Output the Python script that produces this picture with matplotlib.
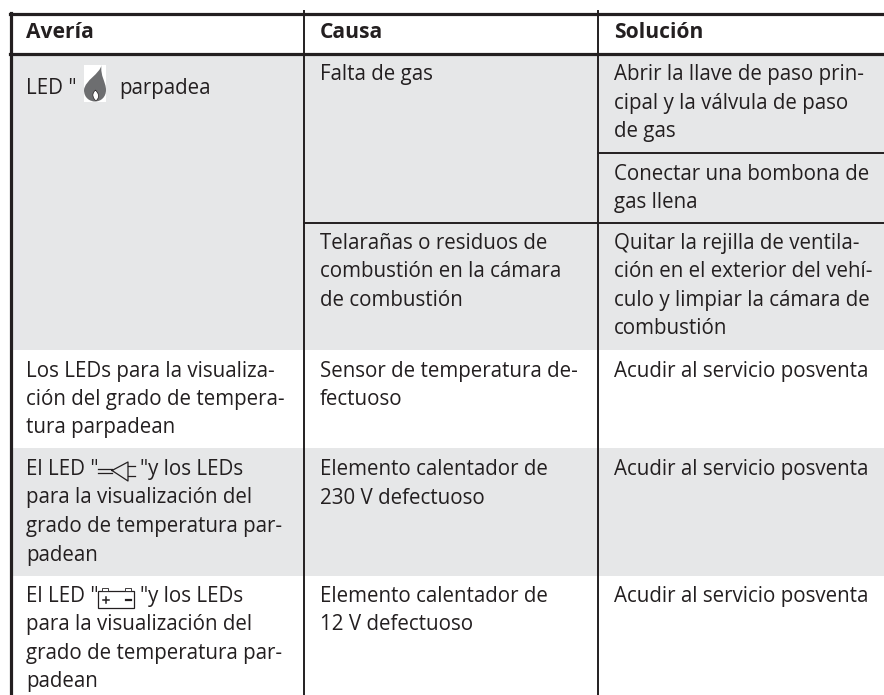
"""Tabla de averías: columnas, filas sombreadas y símbolos de los LEDs."""

import matplotlib.pyplot as plt
from matplotlib.patches import PathPatch, Rectangle
from matplotlib.path import Path

INK = "#231f20"
SHADE = "#e6e7e8"
FONT = "Open Sans"
SIZE = 14.8

headers = ["Avería", "Causa", "Solución"]
column_x = [11, 304, 597.5]
text_x = [26, 319.5, 614]

shaded_bands = [(54, 350), (448, 576)]
line_ys = {"top": 14, "head": 54, "gas": 152.7, "cam": 222.7}

col1_lines = [
    (94, 'LED "'),
    (376.7, "Los LEDs para la visualiza-"),
    (405.2, "ción del grado de tempera-"),
    (433, "tura parpadean"),
    (475, 'El LED "'),
    (503.5, "para la visualización del"),
    (532, "grado de temperatura par-"),
    (560.5, "padean"),
    (601.7, 'El LED "'),
    (630, "para la visualización del"),
    (658.7, "grado de temperatura par-"),
    (687, "padean"),
]
col2_lines = [
    (80, "Falta de gas"),
    (248.7, "Telarañas o residuos de"),
    (277.2, "combustión en la cámara"),
    (305.7, "de combustión"),
    (376.7, "Sensor de temperatura de-"),
    (405.2, "fectuoso"),
    (475, "Elemento calentador de"),
    (503.5, "230 V defectuoso"),
    (601.7, "Elemento calentador de"),
    (630, "12 V defectuoso"),
]
col3_lines = [
    (80, "Abrir la llave de paso prin-"),
    (108.5, "cipal y la válvula de paso"),
    (137, "de gas"),
    (180, "Conectar una bombona de"),
    (208, "gas llena"),
    (248.7, "Quitar la rejilla de ventila-"),
    (277.2, "ción en el exterior del vehí-"),
    (305.7, "culo y limpiar la cámara de"),
    (334.2, "combustión"),
    (376.7, "Acudir al servicio posventa"),
    (475, "Acudir al servicio posventa"),
    (601.7, "Acudir al servicio posventa"),
]
# trozos de texto que siguen a los símbolos
inline_text = [
    (119, 94, "parpadea"),
    (139, 475, '"'),
    (148, 475, "y los LEDs"),
    (139, 601.7, '"'),
    (148, 601.7, "y los LEDs"),
]


def put(ax, x, y, s, **kw):
    kw.setdefault("fontsize", SIZE)
    ax.text(x, y, s, family=FONT, color=INK, va="baseline", **kw)


def draw_flame(ax):
    ax.add_patch(Rectangle((84, 65), 22, 37, fc="white", ec="none", zorder=3))
    verts = [
        (101.5, 65), (100, 74), (85, 80), (84, 90), (84, 98), (90, 101.5), (95, 101.5),
        (101, 101.5), (106, 97), (106, 90), (106, 82), (100, 76), (101.5, 65),
    ]
    codes = [Path.MOVETO] + [Path.CURVE4] * 12
    ax.add_patch(PathPatch(Path(verts, codes), fc="#6d6e70", ec="none", zorder=4))
    inner = [
        (95.5, 90), (93.5, 92), (92.5, 94), (93, 96), (93.5, 98.5), (95, 100.5), (96, 100.5),
        (97.5, 100), (98.5, 98), (98.5, 96), (98.5, 93), (96.5, 91.5), (95.5, 90),
    ]
    ax.add_patch(PathPatch(Path(inner, codes), fc="white", ec=INK, lw=0.5, zorder=5))


def draw_plug(ax):
    lw = 0.9
    ax.plot([98, 112], [468.5, 468.5], color=INK, lw=lw)
    ax.plot([98, 112], [473, 473], color=INK, lw=lw)
    ax.plot([112, 128, 128, 112], [470.5, 462, 481, 470.5], color=INK, lw=lw)
    ax.plot([128, 135], [466, 466], color=INK, lw=lw)
    ax.plot([128, 135], [476, 476], color=INK, lw=lw)


def draw_battery(ax):
    lw = 0.9
    ax.add_patch(Rectangle((98, 591), 36, 17, fc="white", ec=INK, lw=lw, zorder=3))
    ax.add_patch(Rectangle((102, 588), 6, 3, fc="white", ec=INK, lw=0.6, zorder=3))
    ax.add_patch(Rectangle((125, 588), 6, 3, fc="white", ec=INK, lw=0.6, zorder=3))
    ax.plot([103, 109], [599.5, 599.5], color=INK, lw=1.1, zorder=4)
    ax.plot([106, 106], [596.5, 602.5], color=INK, lw=1.1, zorder=4)
    ax.plot([126, 130.5], [599.5, 599.5], color=INK, lw=1.6, zorder=4)


def main():
    fig = plt.figure(figsize=(8.84, 6.95), dpi=100)
    ax = fig.add_axes([0, 0, 1, 1])
    ax.set_xlim(0, 884)
    ax.set_ylim(695, 0)
    ax.axis("off")

    for y0, y1 in shaded_bands:
        ax.add_patch(Rectangle((column_x[0], y0), 884 - column_x[0], y1 - y0,
                               fc=SHADE, ec="none", zorder=0))

    # rejilla
    ax.plot([column_x[0] - 1, 884], [line_ys["top"]] * 2, color=INK, lw=2.3, zorder=2)
    ax.plot([column_x[0] - 1, 884], [line_ys["head"]] * 2, color=INK, lw=2.3, zorder=2)
    ax.plot([column_x[2], 884], [line_ys["gas"]] * 2, color=INK, lw=1.4, zorder=2)
    ax.plot([column_x[1], 884], [line_ys["cam"]] * 2, color=INK, lw=1.4, zorder=2)
    ax.plot([column_x[0]] * 2, [13, 695], color=INK, lw=2.3, zorder=2)
    ax.plot([column_x[1]] * 2, [11, 695], color=INK, lw=1.4, zorder=2)
    ax.plot([column_x[2]] * 2, [11, 695], color=INK, lw=1.4, zorder=2)

    for x, label in zip(text_x, headers):
        put(ax, x, 38, label, fontweight="bold", fontsize=15.1)
    for x, lines in zip(text_x, [col1_lines, col2_lines, col3_lines]):
        for y, s in lines:
            put(ax, x, y, s)
    for x, y, s in inline_text:
        put(ax, x, y, s)

    draw_flame(ax)
    draw_plug(ax)
    draw_battery(ax)

    fig.savefig("out.png", dpi=100)
    plt.close(fig)


if __name__ == "__main__":
    main()
